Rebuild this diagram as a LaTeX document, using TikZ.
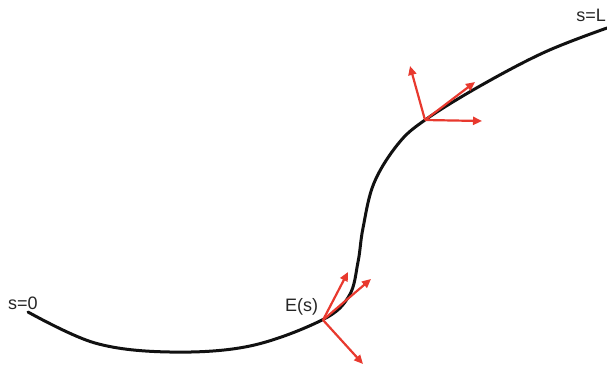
\documentclass[tikz,border=0pt]{standalone}
\usepackage{fontspec}
\setmainfont{Liberation Sans}
\usetikzlibrary{arrows.meta}
\definecolor{curve}{HTML}{111111}
\definecolor{frame}{HTML}{E8392E}

\begin{document}
\begin{tikzpicture}[
  x=1pt, y=-1pt,
  font=\fontsize{18}{20}\selectfont,
  rod/.style={line width=3pt, curve, line cap=round},
  vec/.style={-{Triangle[length=9pt, width=8pt]}, line width=2.2pt, frame},
  lbl/.style={inner sep=0pt, text=black!85}
]
\useasboundingbox (0,0) rectangle (607,368);

% curve E(s), s from 0 to L
\draw[rod] plot[smooth, tension=0.6] coordinates {
  (28,312) (95,343) (170,352) (250,346) (322,320) (349,296)
  (358,262) (363,228) (374,183) (398,144) (425,120) (480,86)
  (545,52) (607,28)};

% frames along the curve
\coordinate (e1) at (323,320);
\coordinate (t1) at (371,279);
\coordinate (n1) at (348,272);
\coordinate (b1) at (363,364);
\coordinate (e2) at (425,120);
\coordinate (t2) at (475,82);
\coordinate (n2) at (410,66);
\coordinate (b2) at (482,121);

\draw[vec] (e1) -- (t1);
\draw[vec] (e1) -- (n1);
\draw[vec] (e1) -- (b1);
\draw[vec] (e2) -- (t2);
\draw[vec] (e2) -- (n2);
\draw[vec] (e2) -- (b2);

% labels
\node[lbl, anchor=base west] (s0) at (8,309) {s=0};
\node[lbl, anchor=base west] (es) at (285,311) {E(s)};
\node[lbl, anchor=base east] (sl) at (606,21) {s=L};
\end{tikzpicture}
\end{document}
